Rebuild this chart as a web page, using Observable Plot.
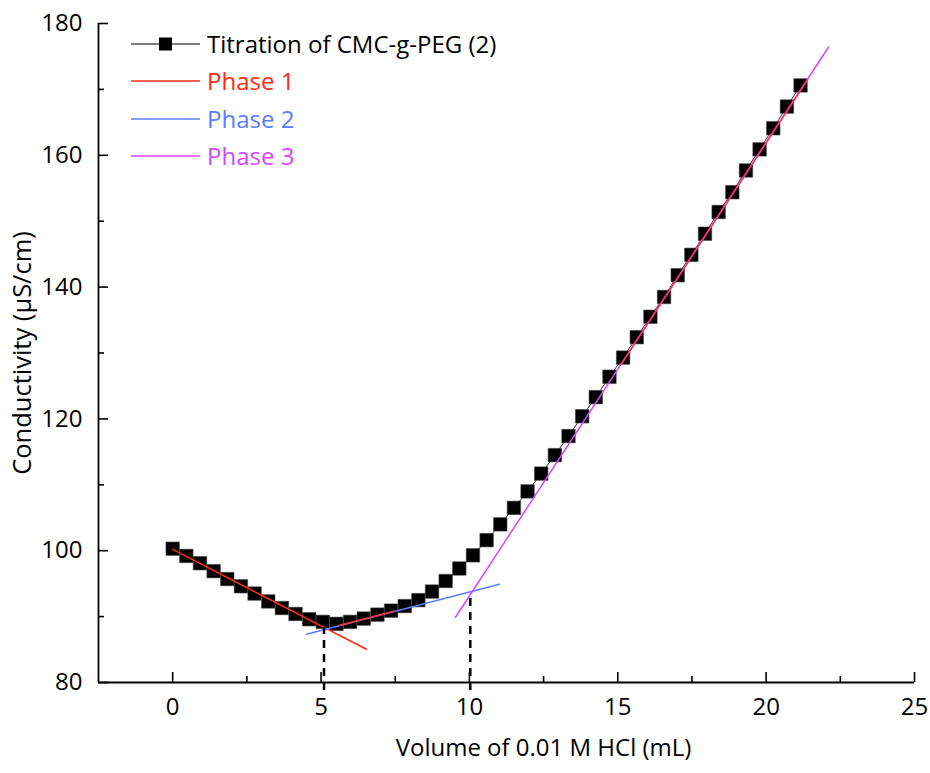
<!DOCTYPE html>
<html><head><meta charset="utf-8">
<script src="https://cdn.jsdelivr.net/npm/d3@7"></script>
<script src="https://cdn.jsdelivr.net/npm/@observablehq/plot@0.6"></script>
<style>
body{margin:0;background:#fff;}
#wrap{position:relative;width:930px;height:773px;font-family:"Open Sans",sans-serif;}
#legend{position:absolute;left:131px;top:25px;font-size:24px;line-height:1;}
.row{display:flex;align-items:center;height:37.5px;white-space:nowrap;}
.row svg{margin-right:7px;flex:none;}
</style></head><body><div id="wrap"><div id="legend"></div></div>
<script>
// Measured titration data (volume of 0.01 M HCl in mL, conductivity in µS/cm)
const volume = [0, 0.46, 0.92, 1.38, 1.84, 2.30, 2.76, 3.22, 3.68, 4.14, 4.60, 5.06, 5.52, 5.98, 6.44, 6.90, 7.36, 7.82, 8.28, 8.74, 9.20, 9.66, 10.12, 10.58, 11.04, 11.50, 11.96, 12.42, 12.88, 13.34, 13.80, 14.26, 14.72, 15.18, 15.64, 16.10, 16.56, 17.02, 17.48, 17.94, 18.40, 18.86, 19.32, 19.78, 20.24, 20.70, 21.16];
const conductivity = [100.3, 99.2, 98.1, 96.9, 95.7, 94.6, 93.5, 92.3, 91.3, 90.4, 89.6, 89.2, 88.9, 89.2, 89.7, 90.3, 90.9, 91.6, 92.5, 93.8, 95.4, 97.3, 99.3, 101.6, 104.0, 106.5, 109.0, 111.7, 114.5, 117.4, 120.4, 123.3, 126.4, 129.3, 132.4, 135.5, 138.5, 141.8, 144.9, 148.1, 151.4, 154.4, 157.7, 160.9, 164.1, 167.4, 170.6];

// Linear fit segments (endpoints)
const phase1X = [0, 6.53], phase1Y = [100.2, 85.05];
const phase2X = [4.51, 11.01], phase2Y = [87.33, 94.92];
const phase3X = [9.53, 22.1], phase3Y = [89.9, 176.4];
// red overlay segments (fitted ranges)
const fitAX = [5.6, 7.45], fitAY = [88.64, 90.8];
const fitBX = [15.1, 21.4], fitBY = [128.2, 171.5];

// Equivalence points (dashed drop lines)
const eqX = [5.1, 10.03];
const eqY = [88.3, 93.6];
const dropBottom = 78.8;

const xMajor = [0, 5, 10, 15, 20, 25];
const xMinor = [2.5, 7.5, 12.5, 17.5, 22.5];
const yMajor = [80, 100, 120, 140, 160, 180];
const yMinor = [90, 110, 130, 150, 170];

const seriesName = "Titration of CMC-g-PEG (2)";
const phaseNames = ["Phase 1", "Phase 2", "Phase 3"];
const phaseColors = ["#ff2a12", "#5b7cff", "#d048ff"];
const xLabel = "Volume of 0.01 M HCl (mL)";
const yLabel = "Conductivity (\u03bcS/cm)";

const pts = volume.map((v, i) => ({v, c: conductivity[i]}));
const seg = (xs, ys) => xs.map((x, i) => ({x, y: ys[i]}));
const drops = eqX.map((x, i) => ({x, y1: dropBottom, y2: eqY[i]}));

const chart = Plot.plot({
  width: 930, height: 773,
  marginLeft: 98, marginRight: 16, marginTop: 23, marginBottom: 91,
  style: {fontFamily: "'Open Sans', sans-serif", fontSize: "24px", color: "#000", background: "#fff"},
  x: {domain: [-2.5, 25]},
  y: {domain: [80, 180]},
  marks: [
    Plot.line(pts, {x: "v", y: "c", stroke: "#333", strokeWidth: 1}),
    Plot.dot(pts, {x: "v", y: "c", symbol: "square", r: 7.6, fill: "#000", stroke: "#444", strokeWidth: 0.6}),
    Plot.line(seg(phase1X, phase1Y), {x: "x", y: "y", stroke: phaseColors[0], strokeWidth: 1.5}),
    Plot.line(seg(phase2X, phase2Y), {x: "x", y: "y", stroke: phaseColors[1], strokeWidth: 1.5}),
    Plot.line(seg(phase3X, phase3Y), {x: "x", y: "y", stroke: phaseColors[2], strokeWidth: 1.5}),
    Plot.line(seg(fitAX, fitAY), {x: "x", y: "y", stroke: "#ff2a3a", strokeWidth: 1.5}),
    Plot.line(seg(fitBX, fitBY), {x: "x", y: "y", stroke: "#ff2f5a", strokeWidth: 1.5}),
    Plot.ruleX(drops, {x: "x", y1: "y1", y2: "y2", stroke: "#000", strokeWidth: 2.5, strokeDasharray: "8,6"}),
    Plot.ruleY([80], {stroke: "#000", strokeWidth: 1.8}),
    Plot.ruleX([-2.5], {stroke: "#000", strokeWidth: 1.8}),
    Plot.axisX({ticks: xMajor, tickSize: 10, dy: -10, tickFormat: () => "", label: null, strokeWidth: 1.6}),
    Plot.axisX({ticks: xMinor, tickSize: 6, dy: -6, tickFormat: () => "", label: null, strokeWidth: 1.6}),
    Plot.axisX({ticks: xMajor, tickSize: 0, tickPadding: 15, label: null}),
    Plot.axisY({ticks: yMajor, tickSize: 10, dx: 10, tickFormat: () => "", label: null, strokeWidth: 1.6}),
    Plot.axisY({ticks: yMinor, tickSize: 6, dx: 6, tickFormat: () => "", label: null, strokeWidth: 1.6}),
    Plot.axisY({ticks: yMajor, tickSize: 0, tickPadding: 16, label: null}),
    Plot.text([xLabel], {frameAnchor: "bottom", dx: 37, dy: 66, textAnchor: "middle", lineAnchor: "middle", fontSize: 24}),
    Plot.text([yLabel], {frameAnchor: "left", dx: -76, rotate: -90, textAnchor: "middle", lineAnchor: "middle", fontSize: 25.5})
  ]
});
document.getElementById("wrap").prepend(chart);

// Legend
const legend = document.getElementById("legend");
const rows = [{name: seriesName, color: "#000", marker: true}].concat(phaseNames.map((n, i) => ({name: n, color: phaseColors[i], marker: false})));
rows.forEach(r => {
  const row = document.createElement("div");
  row.className = "row";
  const lineColor = r.marker ? "#555" : r.color;
  row.innerHTML = `<svg width="69" height="16"><line x1="0" x2="69" y1="8" y2="8" stroke="${lineColor}" stroke-width="1.5"/>` +
    (r.marker ? `<rect x="28" y="1.5" width="13" height="13" fill="#000"/>` : "") + `</svg>` +
    `<span style="color:${r.color}">${r.name}</span>`;
  legend.appendChild(row);
});
</script>
</body></html>
